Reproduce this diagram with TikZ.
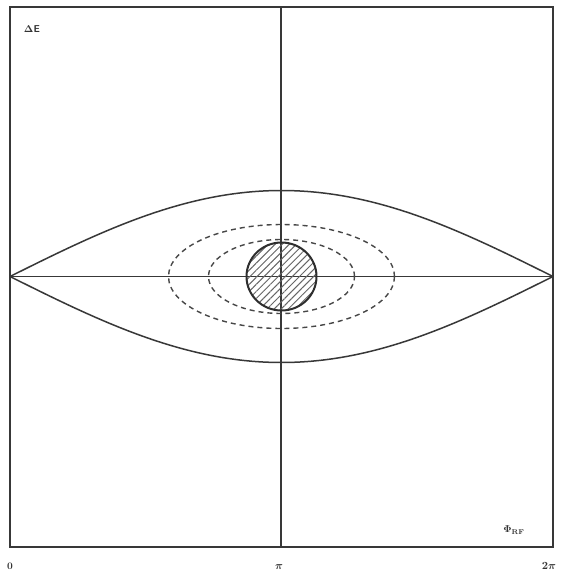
\documentclass[tikz,border=0pt]{standalone}
\usetikzlibrary{patterns.meta}
\begin{document}
\begin{tikzpicture}[x=1pt,y=-1pt,
  ink/.style={draw=black!78, line width=1.5pt},
  dashedink/.style={draw=black!72, line width=1.4pt, dash pattern=on 5pt off 4pt},
  lbl/.style={font=\sffamily\bfseries\boldmath\fontsize{10}{11}\selectfont, text=black!80, inner sep=0pt}]
\useasboundingbox (0,0) rectangle (563,576);
\fill[white] (0,0) rectangle (563,576);
% frame
\draw[ink, line width=2pt] (10,7) rectangle (553,547);
% axes
\coordinate (L) at (10,276.5);
\coordinate (R) at (553,276.5);
\coordinate (T) at (281,7);
\coordinate (B) at (281,547);
\draw[ink, line width=1.2pt] (L) -- (R);
\draw[ink, line width=1.5pt] (T) -- (B);
% separatrix
\draw[ink] plot[domain=10:553, samples=120] (\x, {276.5-86*sin((\x-10)/543*180)});
\draw[ink] plot[domain=10:553, samples=120] (\x, {276.5+86*sin((\x-10)/543*180)});
% dashed ellipses
\draw[dashedink] (281.5,276.5) ellipse [x radius=113pt, y radius=52pt];
\draw[dashedink] (281.5,276.5) ellipse [x radius=73pt, y radius=37pt];
% hatched bunch
\draw[draw=black!82, line width=2pt, pattern={Lines[angle=45,distance=5pt,line width=1pt]}, pattern color=black!60]
  (281.5,276.5) ellipse [x radius=35pt, y radius=34pt];
% labels
\node[lbl] (dE) at (32,29) {$\Delta$E};
\node[lbl] (phi) at (514,530) {$\Phi_{\mathrm{RF}}$};
\node[lbl, font=\bfseries\boldmath\fontsize{10}{11}\selectfont] (z) at (10,566) {0};
\node[lbl, font=\bfseries\boldmath\fontsize{11}{12}\selectfont] (p) at (279,567) {$\pi$};
\node[lbl, font=\bfseries\boldmath\fontsize{11}{12}\selectfont] (tp) at (549,566) {$2\pi$};
\end{tikzpicture}
\end{document}
